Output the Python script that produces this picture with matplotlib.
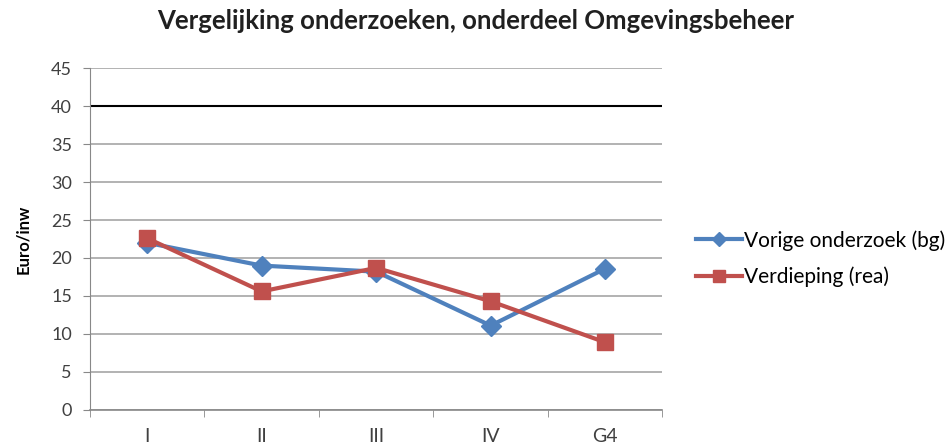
import matplotlib.pyplot as plt
from matplotlib.ticker import FixedLocator, NullFormatter

plt.rcParams['font.family'] = ['Lato', 'DejaVu Sans']

categories = ['I', 'II', 'III', 'IV', 'G4']
vorige = [22.0, 19.0, 18.2, 11.1, 18.6]
verdieping = [22.6, 15.6, 18.7, 14.3, 8.9]
norm = 40
yticks = list(range(0, 50, 5))

fig = plt.figure(figsize=(9.51, 4.48), dpi=100)
ax = fig.add_axes([0.0946, 0.085, 0.602, 0.763])

x = range(len(categories))
ax.plot(x, vorige, color='#4F81BD', lw=3, marker='D', ms=10,
        label='Vorige onderzoek (bg)', zorder=3)
ax.plot(x, verdieping, color='#C0504D', lw=3, marker='s', ms=11,
        label='Verdieping (rea)', zorder=4)

ax.axhline(norm, color='black', lw=1.5, zorder=2)

ax.set_xlim(-0.5, len(categories) - 0.5)
ax.set_ylim(0, 45)
ax.set_yticks(yticks)
ax.set_yticklabels([str(v) for v in yticks])
ax.grid(axis='y', color='#a6a6a6', lw=1.2)
ax.set_axisbelow(True)

ax.set_xticks(list(x))
ax.set_xticklabels(categories)
ax.xaxis.set_minor_locator(FixedLocator([i - 0.5 for i in range(len(categories) + 1)]))
ax.xaxis.set_minor_formatter(NullFormatter())
ax.tick_params(axis='x', which='major', length=0, pad=13, labelsize=14, colors='#404040')
ax.tick_params(axis='x', which='minor', length=5, color='#888888')
ax.tick_params(axis='y', length=5, color='#888888', labelsize=13, labelcolor='#404040', pad=8)

for side in ['top', 'right']:
    ax.spines[side].set_visible(False)
ax.spines['left'].set_color('#888888')
ax.spines['bottom'].set_color('#888888')
ax.spines['bottom'].set_linewidth(1.2)

ax.set_ylabel('Euro/inw', fontsize=12, fontweight='bold', labelpad=14)
fig.suptitle('Vergelijking onderzoeken, onderdeel Omgevingsbeheer',
             fontsize=18.5, fontweight='bold', color='#202020', x=0.5, y=0.98)

ax.legend(loc='center left', bbox_to_anchor=(1.059, 0.443), frameon=False,
          fontsize=15, handlelength=2.2, labelspacing=0.75, handletextpad=0.1,
          borderaxespad=0, borderpad=0, markerscale=0.75)

fig.savefig('out.png', dpi=100)
